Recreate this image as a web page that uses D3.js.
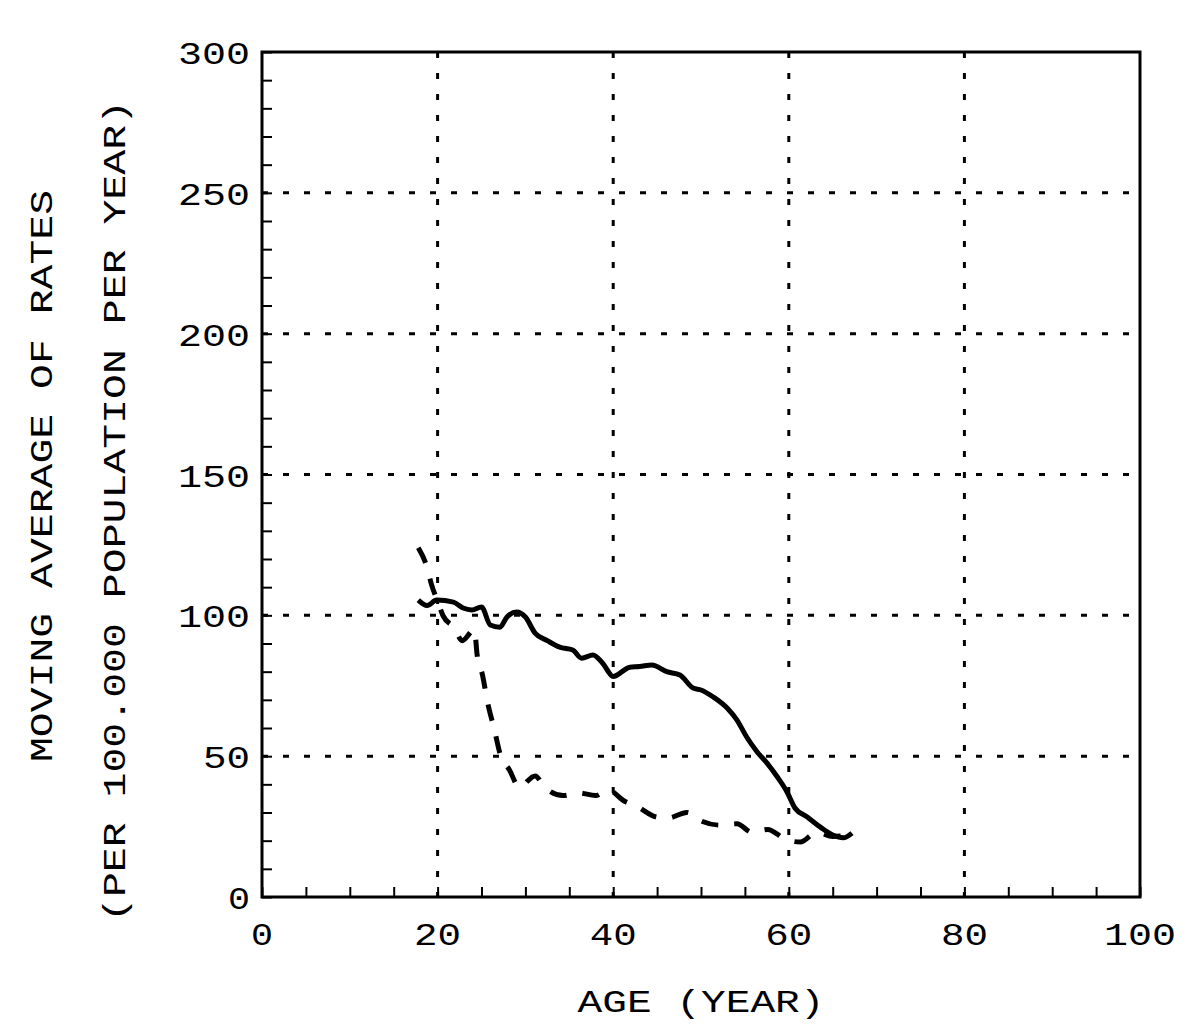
<!DOCTYPE html>
<html>
<head>
<meta charset="utf-8">
<script src="https://cdn.jsdelivr.net/npm/d3@7"></script>
<style>
  body { margin: 0; background: #fff; }
  text { font-family: "Liberation Mono", "DejaVu Sans Mono", monospace; font-size: 32px; fill: #000; }
</style>
</head>
<body>
<div class="board"></div>
<script>
// DATA
var solidAges  = [17.8, 18.8, 19.9, 21.8, 22.9, 23.9, 25, 26, 27.1, 27.9, 29, 30, 31.1, 32.5, 33.9, 35.4, 36.4, 37.7, 38.8, 40, 41.9, 43, 44.4, 46.1, 47.6, 49.1, 50, 51.4, 53, 54.1, 55.2, 56.4, 57.5, 58.7, 59.8, 60.7, 62.1, 63.6, 65, 66.2, 67.2];
var solidRates = [105.4, 103.5, 105.4, 104.7, 102.6, 101.9, 103, 96.6, 95.8, 99.4, 101.2, 99.4, 93.7, 91, 88.7, 87.7, 84.8, 85.9, 83, 78.3, 81.6, 81.8, 82.4, 80, 78.8, 74.2, 73.5, 71, 67, 62.8, 56.8, 51.5, 47.6, 42.6, 37.3, 31.6, 28.4, 24.8, 22, 21, 22.7];

var dashAges  = [17.8, 18.8, 19.3, 20, 20.6, 21.9, 22.8, 24.2, 24.5, 25.1, 25.7, 26.5, 27.1, 28.2, 29.3, 31.1, 32.2, 34.3, 36, 38, 39.4, 41.3, 42.8, 44.8, 46.2, 48.4, 50, 52.2, 54.1, 55.8, 57.6, 59.6, 61.3, 63.2, 65, 67];
var dashRates = [124, 117, 111, 105, 100, 95.5, 91, 95, 86, 79, 69, 59, 51, 45, 39, 43, 39, 36, 37, 36, 38, 34, 32, 28.5, 28, 30, 27, 25.5, 26, 23, 24, 20.5, 19.5, 23, 21.5, 22];

var xTicks = d3.range(0, 101, 5);
var yTicks = d3.range(0, 301, 10);
var xGrid = [20, 40, 60, 80];
var yGrid = [50, 100, 150, 200, 250];
var xLabels = [0, 20, 40, 60, 80, 100];
var yLabels = [0, 50, 100, 150, 200, 250, 300];

// BOARD
var W = 1198, H = 1034;
var pLeft = 262, pRight = 1140, pTop = 52, pBottom = 897;
var charW = 25;

var svg = d3.select('.board').append('svg')
  .attr('width', W).attr('height', H);

var x = d3.scaleLinear().domain([0, 100]).range([pLeft, pRight]);
var y = d3.scaleLinear().domain([0, 300]).range([pBottom, pTop]);

// stretch mono text to the wide pixel font of the original
var fit = function (sel) {
  sel.attr('textLength', function () { return this.textContent.length * charW - 3; })
     .attr('lengthAdjust', 'spacingAndGlyphs');
};

// grid
svg.append('g').selectAll('line').data(xGrid).enter().append('line')
  .attr('x1', function (d) { return x(d); }).attr('x2', function (d) { return x(d); })
  .attr('y1', pTop).attr('y2', pBottom)
  .attr('stroke', '#000').attr('stroke-width', 3).attr('stroke-dasharray', '6 15');
svg.append('g').selectAll('line').data(yGrid).enter().append('line')
  .attr('y1', function (d) { return y(d); }).attr('y2', function (d) { return y(d); })
  .attr('x1', pLeft).attr('x2', pRight)
  .attr('stroke', '#000').attr('stroke-width', 3).attr('stroke-dasharray', '6 15');

// axes (ticks pointing inward)
svg.append('g').attr('transform', 'translate(0,' + pBottom + ')')
  .call(d3.axisBottom(x).tickValues(xTicks).tickSize(-10).tickSizeOuter(0).tickFormat(''));
svg.append('g').attr('transform', 'translate(' + pLeft + ',0)')
  .call(d3.axisLeft(y).tickValues(yTicks).tickSize(-10).tickSizeOuter(0).tickFormat(''));
svg.selectAll('.tick line').attr('stroke', '#000').attr('stroke-width', 2);
svg.selectAll('.domain').remove();

// frame
svg.append('rect')
  .attr('x', pLeft).attr('y', pTop)
  .attr('width', pRight - pLeft).attr('height', pBottom - pTop)
  .attr('fill', 'none').attr('stroke', '#000').attr('stroke-width', 3);

// tick labels
svg.append('g').selectAll('text').data(xLabels).enter().append('text')
  .attr('x', function (d) { return x(d); }).attr('y', 945)
  .attr('text-anchor', 'middle')
  .text(function (d) { return d; })
  .call(fit);
svg.append('g').selectAll('text').data(yLabels).enter().append('text')
  .attr('x', 250).attr('y', function (d) { return y(d) + 12; })
  .attr('text-anchor', 'end')
  .text(function (d) { return d; })
  .call(fit);

// axis titles
svg.append('text').attr('x', (pLeft + pRight) / 2).attr('y', 1012)
  .attr('text-anchor', 'middle').text('AGE (YEAR)').call(fit);
svg.append('text').attr('transform', 'translate(52,476) rotate(-90)')
  .attr('text-anchor', 'middle').text('MOVING AVERAGE OF RATES').call(fit);
svg.append('text').attr('transform', 'translate(125,511) rotate(-90)')
  .attr('text-anchor', 'middle').text('(PER 100.000 POPULATION PER YEAR)').call(fit);

// CURVES
var line = d3.line()
  .x(function (d) { return x(d[0]); })
  .y(function (d) { return y(d[1]); })
  .curve(d3.curveMonotoneX);

svg.append('path')
  .datum(d3.zip(solidAges, solidRates))
  .attr('d', line)
  .attr('fill', 'none').attr('stroke', '#000').attr('stroke-width', 5)
  .attr('stroke-linejoin', 'round');

svg.append('path')
  .datum(d3.zip(dashAges, dashRates))
  .attr('d', line)
  .attr('fill', 'none').attr('stroke', '#000').attr('stroke-width', 5)
  .attr('stroke-dasharray', '17 16');
</script>
</body>
</html>
